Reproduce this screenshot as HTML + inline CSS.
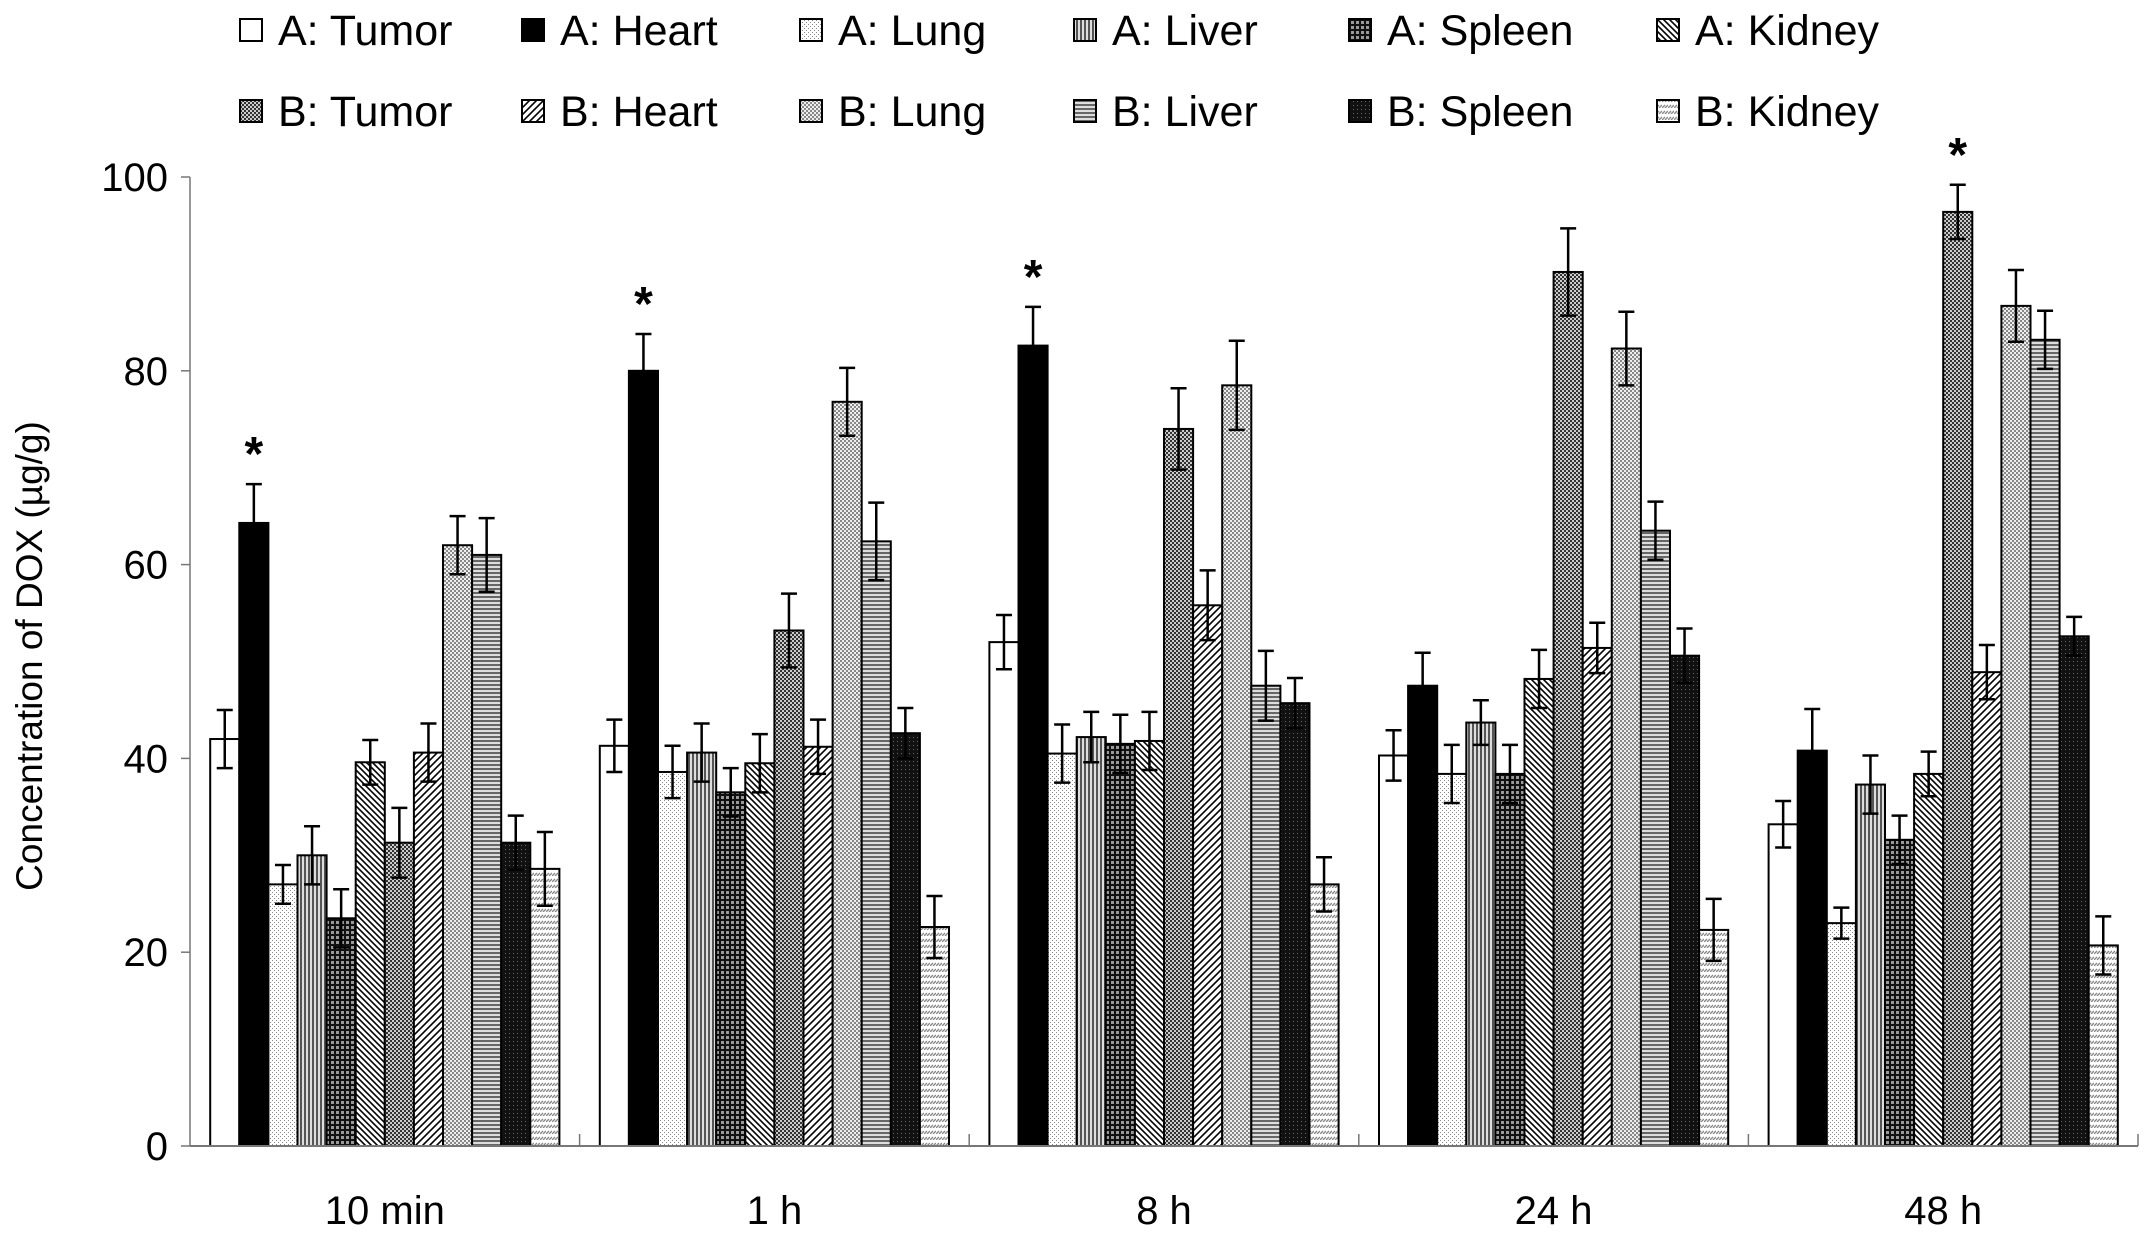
<!DOCTYPE html>
<html><head><meta charset="utf-8"><style>
html,body{margin:0;padding:0;background:#fff;}
svg{display:block;font-family:"Liberation Sans",Arial,sans-serif;}
</style></head><body>
<svg id="chart" width="2150" height="1237" viewBox="0 0 2150 1237" xmlns="http://www.w3.org/2000/svg">
<defs>
<pattern id="p0" width="4" height="4" patternUnits="userSpaceOnUse"><rect width="4" height="4" fill="#fff"/></pattern>
<pattern id="p1" width="4" height="4" patternUnits="userSpaceOnUse"><rect width="4" height="4" fill="#000"/></pattern>
<pattern id="p2" width="4" height="4" patternUnits="userSpaceOnUse"><rect width="4" height="4" fill="#fff"/><rect x="0" y="0" width="1" height="1" fill="#888"/><rect x="2" y="2" width="1" height="1" fill="#888"/></pattern>
<pattern id="p3" width="4" height="4" patternUnits="userSpaceOnUse"><rect width="4" height="4" fill="#ddd"/><rect x="0" width="2" height="4" fill="#555"/></pattern>
<pattern id="p4" width="5" height="5" patternUnits="userSpaceOnUse"><rect width="5" height="5" fill="#111"/><rect x="1" y="1" width="3" height="3" fill="#999"/></pattern>
<pattern id="p5" width="6" height="6" patternUnits="userSpaceOnUse"><rect width="6" height="6" fill="#fff"/><path d="M0,0 L6,6 M-3,3 L3,9 M3,-3 L9,3" stroke="#000" stroke-width="1.6"/></pattern>
<pattern id="p6" width="4" height="4" patternUnits="userSpaceOnUse"><rect width="4" height="4" fill="#333"/><rect x="0" y="0" width="2" height="2" fill="#ccc"/><rect x="2" y="2" width="2" height="2" fill="#ccc"/></pattern>
<pattern id="p7" width="7" height="7" patternUnits="userSpaceOnUse"><rect width="7" height="7" fill="#fff"/><path d="M0,7 L7,0 M-3,3 L3,-3 M4,10 L10,4" stroke="#000" stroke-width="1.6"/></pattern>
<pattern id="p8" width="4" height="4" patternUnits="userSpaceOnUse"><rect width="4" height="4" fill="#eee"/><rect x="0" y="0" width="2" height="2" fill="#888"/><rect x="2" y="2" width="2" height="2" fill="#888"/></pattern>
<pattern id="p9" width="4" height="4" patternUnits="userSpaceOnUse"><rect width="4" height="4" fill="#ddd"/><rect y="0" width="4" height="2" fill="#666"/></pattern>
<pattern id="p10" width="4" height="4" patternUnits="userSpaceOnUse"><rect width="4" height="4" fill="#111"/><rect x="1" y="1" width="1" height="1" fill="#666"/></pattern>
<pattern id="p11" width="6" height="6" patternUnits="userSpaceOnUse"><rect width="6" height="6" fill="#fff"/><path d="M0,6 L3,3 M3,6 L6,3" stroke="#888" stroke-width="1.4"/></pattern>
</defs>
</svg>
<script>
const categories = ["10 min","1 h","8 h","24 h","48 h"];
const seriesNames = ["A: Tumor","A: Heart","A: Lung","A: Liver","A: Spleen","A: Kidney","B: Tumor","B: Heart","B: Lung","B: Liver","B: Spleen","B: Kidney"];
const values10min = [42,64.3,27,30,23.5,39.6,31.3,40.6,62,61,31.3,28.6];
const errors10min = [3,4,2,3,3,2.3,3.6,3,3,3.8,2.8,3.8];
const values1h = [41.3,80,38.6,40.6,36.5,39.5,53.2,41.2,76.8,62.4,42.6,22.6];
const errors1h = [2.7,3.8,2.7,3,2.5,3,3.8,2.8,3.5,4,2.6,3.2];
const values8h = [52,82.6,40.5,42.2,41.5,41.8,74,55.8,78.5,47.5,45.7,27];
const errors8h = [2.8,4,3,2.6,3,3,4.2,3.6,4.6,3.6,2.6,2.8];
const values24h = [40.3,47.5,38.4,43.7,38.4,48.2,90.2,51.4,82.3,63.5,50.6,22.3];
const errors24h = [2.6,3.4,3,2.3,3,3,4.5,2.6,3.8,3,2.8,3.2];
const values48h = [33.2,40.8,23,37.3,31.6,38.4,96.4,48.9,86.7,83.2,52.6,20.7];
const errors48h = [2.4,4.3,1.6,3,2.5,2.3,2.8,2.8,3.7,3,2,3];
const yTicks = [0,20,40,60,80,100];
const starMarks = [[0,1],[1,1],[2,1],[4,6]];

const allValues=[values10min,values1h,values8h,values24h,values48h];
const allErrors=[errors10min,errors1h,errors8h,errors24h,errors48h];
const svg=document.getElementById('chart');
const NS='http://www.w3.org/2000/svg';
const X0=190,X1=2138,Y0=1146,Y100=177;
const groupW=(X1-X0)/categories.length, barW=29.1, pad=(groupW-12*barW)/2;
function y(v){return Y0-(v/100)*(Y0-Y100);}
function bx(g,s){return X0+g*groupW+pad+s*barW;}
function mk(tag,attrs,parent){const e=document.createElementNS(NS,tag);for(const k in attrs)e.setAttribute(k,attrs[k]);(parent||svg).appendChild(e);return e;}

const yAxis=mk('line',{x1:X0,y1:Y100,x2:X0,y2:Y0,stroke:'#777','stroke-width':1.5});


yTicks.forEach(t=>{
  const tk=mk('line',{x1:X0-9,x2:X0,y1:y(t),y2:y(t),stroke:'#777','stroke-width':1.5});
  
  
  const tl=mk('text',{x:X0-22,y:y(t)+14,'text-anchor':'end','font-size':40});
  tl.textContent=t;
  
  
});
const yt=mk('text',{x:0,y:0,'text-anchor':'middle','font-size':37,transform:'translate(42,656) rotate(-90)'});
yt.textContent='Concentration of DOX (µg/g)';



allValues.forEach((vals,g)=>{
  vals.forEach((v,s)=>{
    const x=bx(g,s), e=allErrors[g][s];
    const r=mk('rect',{x:x,y:y(v),width:barW,height:Y0-y(v),fill:'url(#p'+s+')',stroke:'#000','stroke-width':2});
    
    
    const cx=x+barW/2;
    const eb=mk('path',{d:`M${cx},${y(v-e)}L${cx},${y(v+e)}M${cx-8},${y(v+e)}L${cx+8},${y(v+e)}M${cx-8},${y(v-e)}L${cx+8},${y(v-e)}`,stroke:'#000','stroke-width':2.5,fill:'none'});
    
    
  });
});
starMarks.forEach(([g,s])=>{
  const v=allValues[g][s]+allErrors[g][s];
  const t=mk('text',{x:bx(g,s)+barW/2,y:y(v)-14,'text-anchor':'middle','font-size':48,'font-weight':'bold'});
  t.textContent='*';
  
  
});
const xAxis=mk('line',{x1:X0,y1:Y0,x2:X1,y2:Y0,stroke:'#777','stroke-width':2});


categories.forEach((c,g)=>{
  const sx=X0+(g+1)*groupW;
  const tk=mk('line',{x1:sx,x2:sx,y1:Y0-12,y2:Y0,stroke:'#777','stroke-width':1.5});
  
  
  const tl=mk('text',{x:X0+(g+0.5)*groupW,y:1224,'text-anchor':'middle','font-size':40});
  tl.textContent=c;
  
  
});
const legX=[240,522,800,1074,1349,1657];
seriesNames.forEach((n,i)=>{
  const col=i%6,row=Math.floor(i/6);
  const ly=row?111:30;
  const g=mk('g',{});
  
  
  mk('rect',{x:legX[col],y:ly-11,width:22,height:22,fill:'url(#p'+i+')',stroke:'#000','stroke-width':2},g);
  const t=mk('text',{x:legX[col]+38,y:ly+15,'font-size':43},g);
  t.textContent=n;
});
</script>
</body></html>
